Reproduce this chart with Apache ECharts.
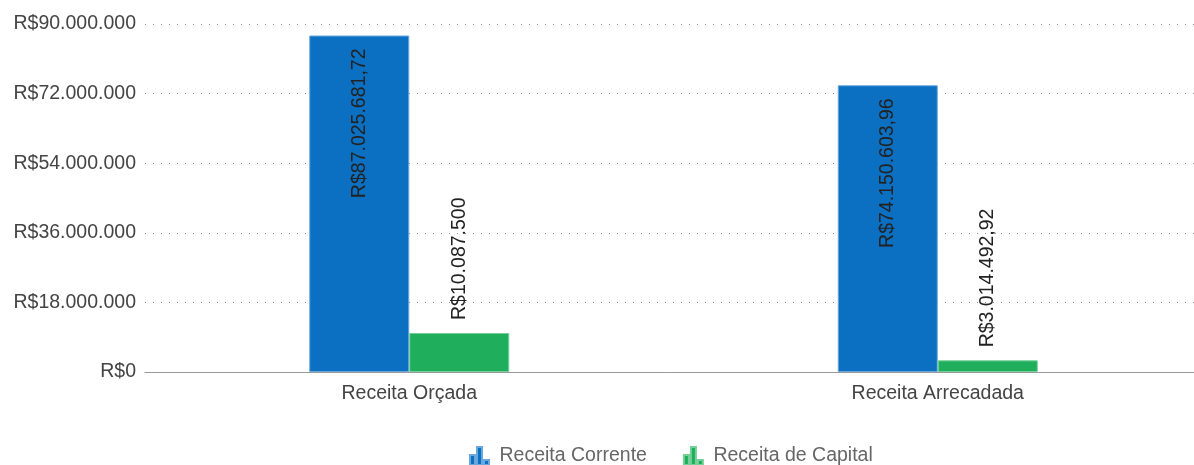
<!DOCTYPE html>
<html>
<head>
<meta charset="utf-8">
<script src="https://cdn.jsdelivr.net/npm/echarts@6/dist/echarts.min.js"></script>
<style>
  html, body { margin: 0; padding: 0; background: #fff; }
  #chart { width: 1194px; height: 465px; }
</style>
</head>
<body>
<div id="chart"></div>
<script>
const categories = ['Receita Orçada', 'Receita Arrecadada']
const receitaCorrente = [87025681.72, 74150603.96]
const receitaCapital = [10087500, 3014492.92]
const yTicks = { min: 0, max: 90000000, interval: 18000000 }

// R$ com separador de milhar "." e decimais ","
function brl(v) {
  const cents = Math.round(v * 100) % 100
  const int = Math.floor(v).toString().replace(/\B(?=(\d{3})+(?!\d))/g, '.')
  return 'R$' + int + (cents ? ',' + String(cents).padStart(2, '0') : '')
}

const FONT = 'Liberation Sans, Arial, sans-serif'
const FS = 19.5
const barIcon = 'path://M0,8h5v10h-5z M7,0h5v18h-5z M14,13h5v5h-5z'

const chart = echarts.init(document.getElementById('chart'))
chart.setOption({
  animation: false,
  textStyle: { fontFamily: FONT },
  // grade passa um pouco da borda direita, como no original
  grid: { left: 145, width: 1057, top: 24, height: 348, outerBoundsMode: 'none' },
  legend: {
    left: 464,
    top: 441,
    itemWidth: 20,
    itemHeight: 18,
    itemGap: 36,
    icon: barIcon,
    textStyle: { color: '#666', fontSize: FS, fontFamily: FONT, padding: [0, 0, 0, 5] },
    data: ['Receita Corrente', 'Receita de Capital'],
  },
  xAxis: {
    type: 'category',
    data: categories,
    axisLine: { lineStyle: { color: '#999', width: 1 } },
    axisTick: { show: false },
    axisLabel: { color: '#444', fontSize: FS, margin: 12 },
  },
  yAxis: {
    type: 'value',
    min: yTicks.min,
    max: yTicks.max,
    interval: yTicks.interval,
    axisLine: { show: false },
    axisTick: { show: false },
    axisLabel: { color: '#444', fontSize: FS, margin: 9, formatter: (v) => brl(v) },
    splitLine: { lineStyle: { color: '#888', type: [1, 7], width: 1 } },
  },
  series: [
    {
      name: 'Receita Corrente',
      type: 'bar',
      data: receitaCorrente,
      barWidth: 100,
      barGap: '0%',
      itemStyle: { color: '#0b6fc2', borderColor: '#6aa8dc', borderWidth: 1 },
      label: {
        show: true,
        position: 'insideTop',
        distance: 13,
        rotate: 90,
        align: 'right',
        verticalAlign: 'middle',
        color: '#222',
        fontSize: FS,
        formatter: (p) => brl(p.value),
      },
    },
    {
      name: 'Receita de Capital',
      type: 'bar',
      data: receitaCapital,
      barWidth: 100,
      barGap: '0%',
      itemStyle: { color: '#1fae5b', borderColor: '#74cf98', borderWidth: 1 },
      label: {
        show: true,
        position: 'top',
        distance: 13,
        rotate: 90,
        align: 'left',
        verticalAlign: 'middle',
        color: '#222',
        fontSize: FS,
        formatter: (p) => brl(p.value),
      },
    },
  ],
})
</script>
</body>
</html>
